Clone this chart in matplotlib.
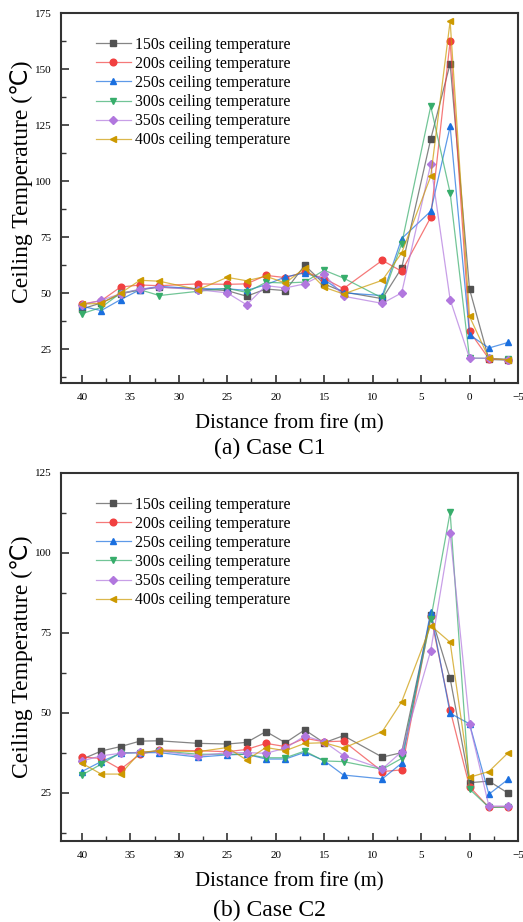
import matplotlib
matplotlib.use("Agg")
import matplotlib.pyplot as plt
from matplotlib.colors import to_rgba
from matplotlib.ticker import MultipleLocator

plt.rcParams['font.family'] = ['Liberation Serif', 'DejaVu Sans']

# distance from fire (m), same positions for both cases
distance = [40, 38, 36, 34, 32, 28, 25, 23, 21, 19, 17, 15, 13, 9, 7, 4, 2, 0, -2, -4]

labels = ["150s ceiling temperature", "200s ceiling temperature",
          "250s ceiling temperature", "300s ceiling temperature",
          "350s ceiling temperature", "400s ceiling temperature"]
colors = ["#515151", "#F14040", "#1A6FDF", "#37AD6B", "#B177DE", "#CC9900"]
markers = ["s", "o", "^", "v", "D", "<"]

# Case C1
c1_150 = [43.0, 45.7, 49.7, 51.6, 52.7, 52.0, 51.2, 48.7, 51.9, 51.2, 62.5, 54.2, 50.6, 47.6, 61.3, 118.8, 152.4, 51.9, 20.5, 20.2]
c1_200 = [45.2, 46.7, 52.8, 53.7, 53.4, 54.2, 54.0, 54.2, 58.0, 57.0, 59.5, 56.6, 52.1, 64.7, 59.8, 83.9, 162.5, 33.0, 20.8, 20.4]
c1_250 = [44.2, 42.3, 47.2, 51.6, 53.1, 52.0, 52.0, 51.3, 53.8, 57.3, 59.1, 56.1, 50.2, 49.0, 74.4, 86.6, 124.4, 31.5, 25.6, 28.1]
c1_300 = [40.9, 43.7, 50.1, 51.6, 49.0, 50.9, 52.2, 50.4, 54.9, 54.6, 55.0, 60.3, 56.8, 47.9, 72.1, 133.4, 94.8, 21.1, 21.0, 20.5]
c1_350 = [44.9, 46.9, 49.8, 51.9, 52.8, 51.6, 50.2, 44.9, 53.4, 52.4, 54.2, 58.6, 48.7, 45.5, 50.2, 107.6, 47.2, 21.1, 21.0, 20.4]
c1_400 = [45.2, 45.5, 50.1, 55.8, 55.4, 51.6, 57.1, 55.6, 57.6, 54.6, 61.3, 52.7, 49.7, 55.8, 68.0, 102.2, 171.4, 39.7, 21.0, 20.3]

# Case C2
c2_150 = [35.5, 38.1, 39.5, 41.2, 41.3, 40.5, 40.3, 40.8, 44.2, 40.7, 44.7, 40.7, 42.9, 36.2, 37.6, 80.6, 60.8, 28.2, 28.7, 24.9]
c2_200 = [36.2, 35.8, 32.4, 37.1, 38.4, 38.2, 37.9, 38.6, 40.5, 39.5, 42.1, 41.0, 41.2, 31.7, 32.2, 80.3, 50.9, 27.0, 20.5, 20.7]
c2_250 = [31.7, 34.8, 37.4, 37.6, 37.6, 36.2, 36.9, 37.1, 35.6, 35.6, 37.7, 35.1, 30.6, 29.4, 34.3, 81.7, 49.9, 46.6, 24.6, 29.3]
c2_300 = [30.6, 34.0, 37.6, 37.6, 38.2, 37.1, 37.1, 37.1, 36.0, 36.0, 38.1, 35.0, 34.8, 32.4, 35.8, 79.3, 112.7, 26.2, 20.5, 20.5]
c2_350 = [35.0, 36.6, 37.4, 37.7, 38.1, 36.6, 37.6, 37.6, 37.4, 39.0, 42.8, 41.0, 36.7, 32.5, 37.9, 69.5, 106.1, 46.6, 20.9, 20.9]
c2_400 = [34.3, 30.9, 30.9, 37.7, 38.2, 37.9, 39.2, 35.3, 39.2, 38.2, 40.5, 40.7, 39.0, 44.2, 53.5, 77.3, 72.1, 29.9, 31.7, 37.6]

case_c1 = [c1_150, c1_200, c1_250, c1_300, c1_350, c1_400]
case_c2 = [c2_150, c2_200, c2_250, c2_300, c2_350, c2_400]


def draw_case(ax, series, ymax, label_y):
    for vals, lab, col, mk in zip(series, labels, colors, markers):
        ax.plot(distance, vals, color=to_rgba(col, 0.7), lw=0.9,
                marker=mk, ms=4.8 if mk != "D" else 4.2,
                markerfacecolor=col, markeredgecolor=col, label=lab)
    ax.set_xlim(42.15, -5)
    ax.set_ylim(10, ymax)
    ax.xaxis.set_major_locator(MultipleLocator(5))
    ax.xaxis.set_minor_locator(MultipleLocator(2.5))
    ax.yaxis.set_major_locator(MultipleLocator(25))
    ax.yaxis.set_minor_locator(MultipleLocator(12.5))
    ax.tick_params(which='both', direction='in', top=False, right=False,
                   labelsize=8, color='#333333', pad=7)
    ax.tick_params(which='major', length=6, width=1.2)
    ax.tick_params(which='minor', length=3.5, width=1.0)
    for sp in ax.spines.values():
        sp.set_linewidth(1.5)
        sp.set_color('#333333')
    ax.set_xlabel("Distance from fire (m)", fontsize=15, labelpad=9)
    ax.set_ylabel("Ceiling Temperature (℃)", fontsize=17)
    ax.yaxis.set_label_coords(-0.062, label_y)
    ax.legend(loc='upper left', bbox_to_anchor=(0.062, 0.953), frameon=False,
              fontsize=11.3, handlelength=2.25, handletextpad=0.25,
              labelspacing=0.2, borderaxespad=0.0)


fig = plt.figure(figsize=(5.23, 9.22), dpi=100)
ax1 = fig.add_axes([0.1166, 0.5846, 0.8738, 0.4013])
ax2 = fig.add_axes([0.1166, 0.0879, 0.8738, 0.3991])

draw_case(ax1, case_c1, 175, 0.543)
draw_case(ax2, case_c2, 125, 0.5)

fig.text(0.515, 0.514, "(a) Case C1", ha='center', va='center', fontsize=17)
fig.text(0.515, 0.012, "(b) Case C2", ha='center', va='center', fontsize=17)

fig.savefig("out.png", dpi=100)
